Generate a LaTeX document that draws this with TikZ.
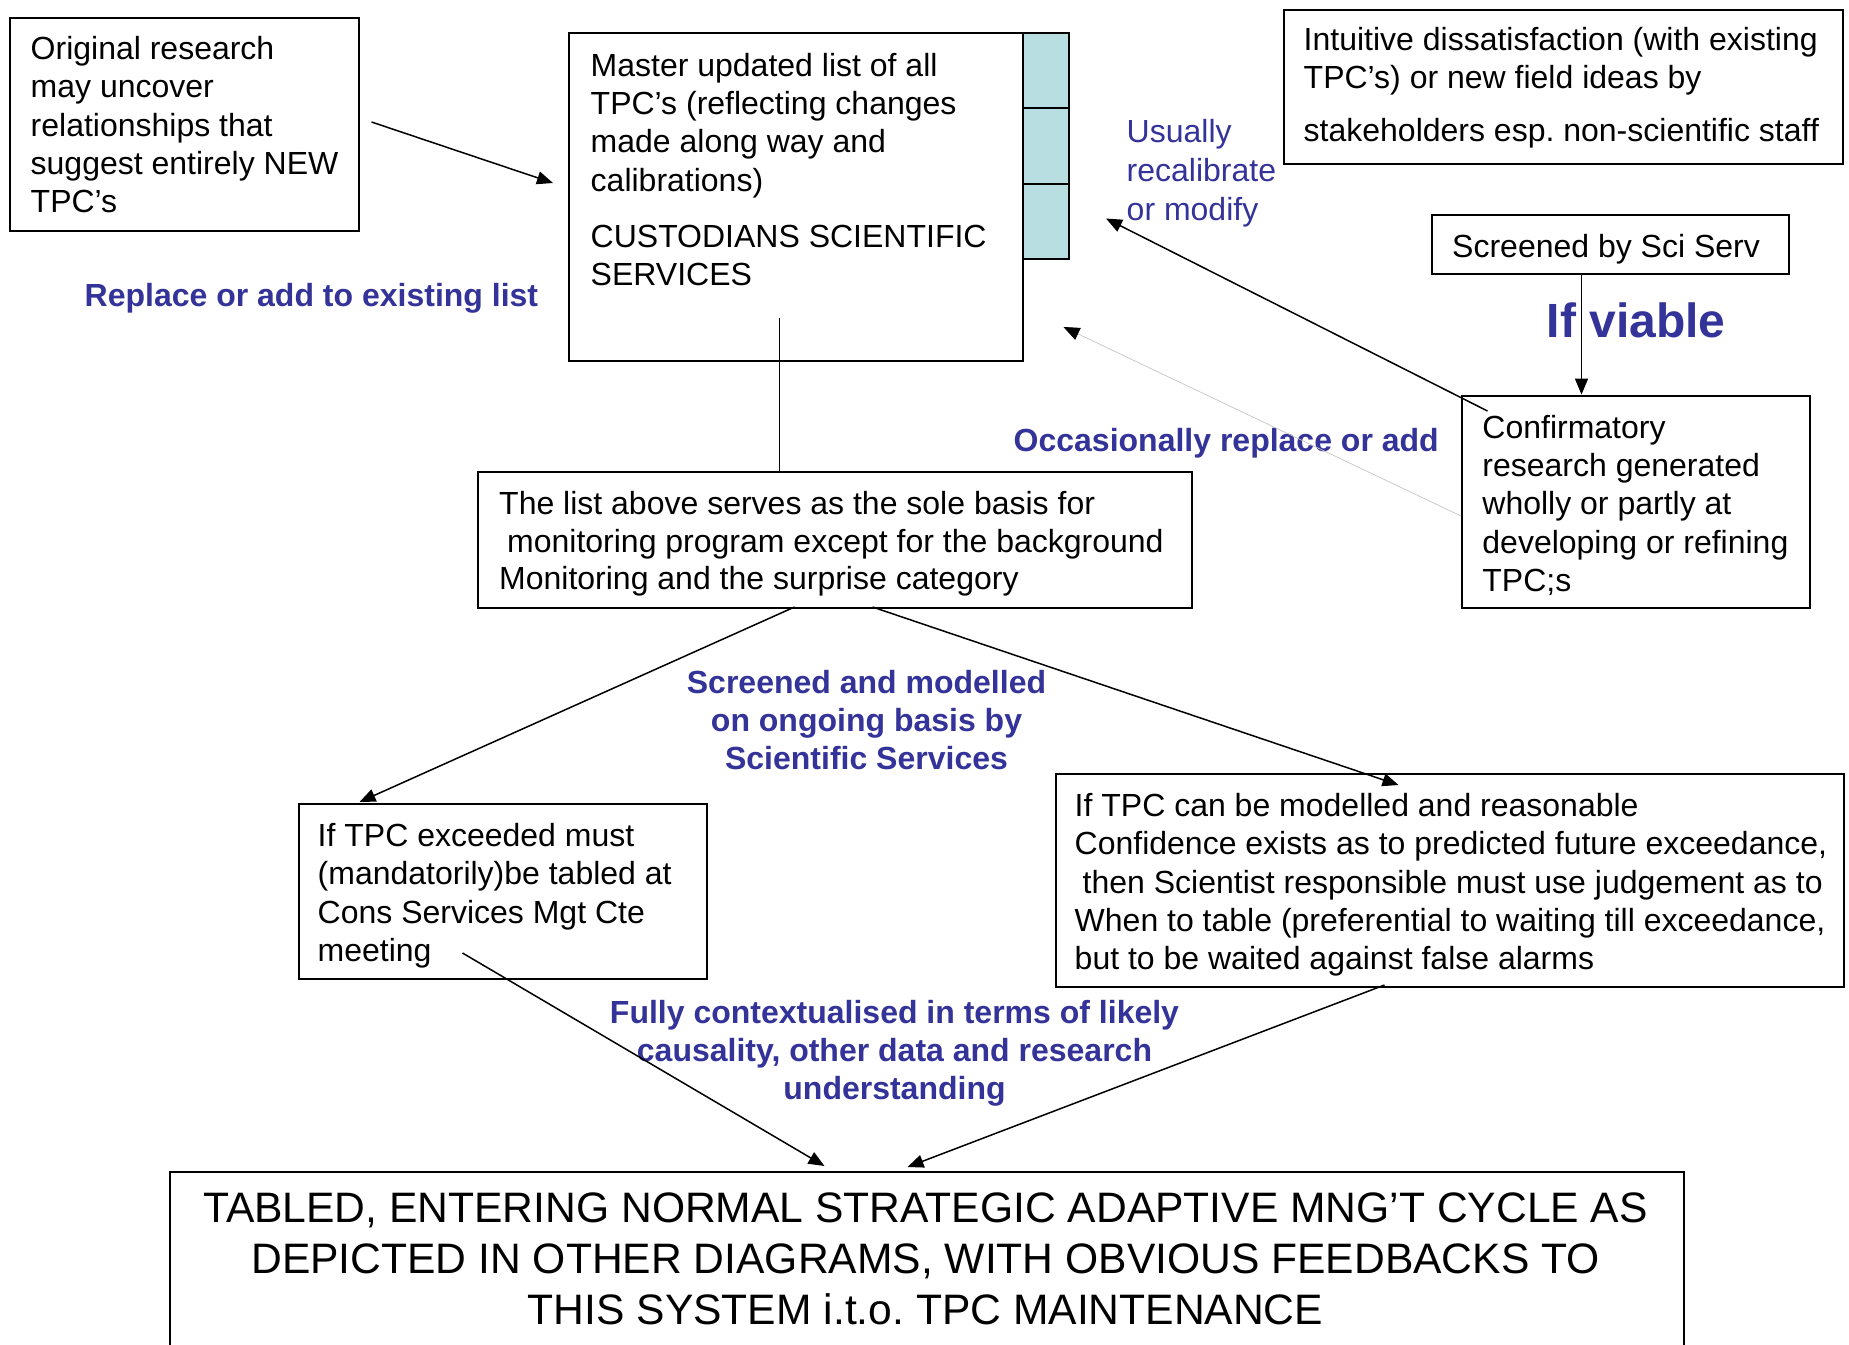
\documentclass[tikz,border=0pt]{standalone}
\usepackage{fontspec}
\setmainfont{Liberation Sans}
\usetikzlibrary{arrows.meta}
\definecolor{labelblue}{RGB}{51,51,153}
\definecolor{tealfill}{RGB}{185,222,225}
\frenchspacing
\begin{document}
\begin{tikzpicture}[x=1pt,y=-1pt,
  boxnode/.style={draw=black, line width=2pt, anchor=north west, inner sep=0pt},
  txt/.style={anchor=north west, inner sep=0pt, align=left, font=\fontsize{32}{38.3}\selectfont},
  ctxt/.style={anchor=north, inner sep=0pt, align=center},
  bluebold/.style={text=labelblue, inner sep=0pt, font=\fontsize{32}{38.3}\selectfont\bfseries},
  conn/.style={line width=1.5pt, -{Triangle[length=16pt,width=13pt]}},
  plainline/.style={line width=1.5pt},
  grayconn/.style={draw=gray!45, line width=0.7pt, -{Triangle[length=16pt,width=13pt,color=black]}}
]
\path[use as bounding box, fill=white] (0,0) rectangle (1849,1344);
\clip (0,0) rectangle (1849,1344);

% boxes
\node[boxnode, minimum width=348.5pt, minimum height=213pt] (orig) at (9,17) {};
\node[boxnode, minimum width=454.4pt, minimum height=328pt] (master) at (568,32) {};
\node[boxnode, fill=tealfill, minimum width=46pt, minimum height=75pt] (tealA) at (1022.4,32) {};
\node[boxnode, fill=tealfill, minimum width=46pt, minimum height=76pt] (tealB) at (1022.4,107) {};
\node[boxnode, fill=tealfill, minimum width=46pt, minimum height=75pt] (tealC) at (1022.4,183) {};
\node[boxnode, minimum width=559.5pt, minimum height=154.3pt] (intu) at (1282.5,8.7) {};
\node[boxnode, minimum width=357.6pt, minimum height=59.3pt] (screen) at (1430.5,213.5) {};
\node[boxnode, minimum width=348.2pt, minimum height=212.4pt] (conf) at (1461,394.6) {};
\node[boxnode, minimum width=713.6pt, minimum height=136pt] (list) at (477.4,470.7) {};
\node[boxnode, minimum width=408pt, minimum height=174.7pt] (exceed) at (297.5,803) {};
\node[boxnode, minimum width=788pt, minimum height=213.3pt] (model) at (1054.5,772.7) {};
\node[boxnode, minimum width=1513.5pt, minimum height=220pt] (tabled) at (169,1170.7) {};

% box texts
\node[txt] (origT) at (30.5,36.3) {Original research\\may uncover\\relationships that\\suggest entirely NEW\\TPC’s};
\node[txt] (masterT) at (590.5,52.9) {Master updated list of all\\TPC’s (reflecting changes\\made along way and\\calibrations)\\[17.7pt]CUSTODIANS SCIENTIFIC\\SERVICES};
\node[txt] (intuT) at (1303.5,27) {Intuitive dissatisfaction (with existing\\TPC’s) or new field ideas by\\[14.5pt]stakeholders esp. non-scientific staff};
\node[txt, anchor=base west] (screenT) at (1452,257) {Screened by Sci Serv};
\node[txt] (confT) at (1482.2,415) {Confirmatory\\research generated\\wholly or partly at\\developing or refining\\TPC;s};
\node[txt, font=\fontsize{32}{37.8}\selectfont] (listT) at (499,491) {The list above serves as the sole basis for\\\hspace*{8pt}monitoring program except for the background\\Monitoring and the surprise category};
\node[txt] (exceedT) at (317.5,823) {If TPC exceeded must\\(mandatorily)be tabled at\\Cons Services Mgt Cte\\meeting};
\node[txt] (modelT) at (1074.5,793) {If TPC can be modelled and reasonable\\Confidence exists as to predicted future exceedance,\\\hspace*{8pt}then Scientist responsible must use judgement as to\\When to table (preferential to waiting till exceedance,\\but to be waited against false alarms};
\node[ctxt, font=\fontsize{42.6}{50.7}\selectfont] (tabledT) at (925.5,1193) {TABLED, ENTERING NORMAL STRATEGIC ADAPTIVE MNG’T CYCLE AS\\DEPICTED IN OTHER DIAGRAMS, WITH OBVIOUS FEEDBACKS TO\\THIS SYSTEM i.t.o. TPC MAINTENANCE};

% blue labels
\node[bluebold, anchor=base west] (replaceL) at (84.5,306) {Replace or add to existing list};
\node[txt, text=labelblue, font=\fontsize{32}{39}\selectfont] (usuallyL) at (1126.5,119.5) {Usually\\recalibrate\\or modify};
\node[bluebold, anchor=base west, font=\fontsize{48}{56}\selectfont\bfseries] (viableL) at (1546.5,337) {If viable};
\node[bluebold, anchor=base west] (occL) at (1013.5,451) {Occasionally replace or add};
\node[bluebold, ctxt] (screenedL) at (866.5,670) {Screened and modelled\\on ongoing basis by\\Scientific Services};
\node[bluebold, ctxt, font=\fontsize{32}{37.7}\selectfont\bfseries] (fullyL) at (894.5,1000.5) {Fully contextualised in terms of likely\\causality, other data and research\\understanding};

% connector end points
\coordinate (oS) at (371.5,122);
\coordinate (mE) at (553,183);
\coordinate (mB) at (779.5,318);
\coordinate (cU) at (1487.5,411);
\coordinate (mU) at (1106,218.5);
\coordinate (cL) at (1461,516);
\coordinate (mO) at (1063.5,327);
\coordinate (lA) at (794.5,607);
\coordinate (eT) at (359.5,802);
\coordinate (lB) at (872.5,607);
\coordinate (mT) at (1398.5,785);
\coordinate (eS) at (462.5,953);
\coordinate (tA) at (824.5,1166);
\coordinate (mS) at (1384.5,985);
\coordinate (tB) at (907.5,1167);

% connectors
\draw[conn] (oS) -- (mE);
\draw[plainline] (mB) -- (mB |- list.north);
\draw[conn] (cU) -- (mU);
\draw[grayconn] (cL) -- (mO);
\draw[conn] (screen.south -| 1581.5,0) -- (conf.north -| 1581.5,0);
\draw[conn] (lA) -- (eT);
\draw[conn] (lB) -- (mT);
\draw[conn] (eS) -- (tA);
\draw[conn] (mS) -- (tB);
\end{tikzpicture}
\end{document}
